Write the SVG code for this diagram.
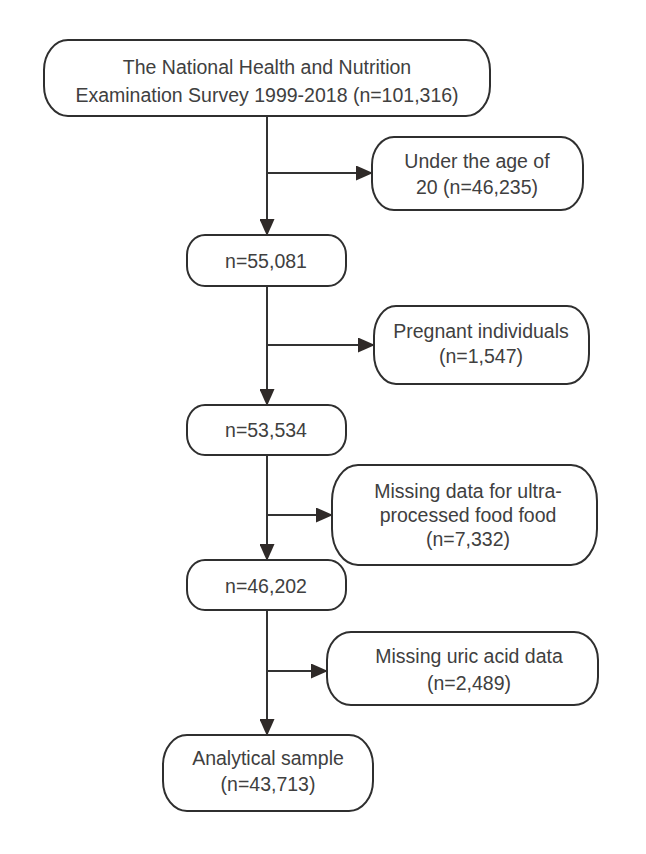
<svg xmlns="http://www.w3.org/2000/svg" width="646" height="854" viewBox="0 0 646 854">
<style>
.box{fill:#fff;stroke:#2f2f2f;stroke-width:2}
.t{font-family:"Liberation Sans",Arial,sans-serif;font-size:19.5px;fill:#404040;text-anchor:middle}
.c{stroke:#333;stroke-width:2;fill:none}
</style>
<defs>
<marker id="ah" viewBox="0 0 17 15" refX="16" refY="7.5" markerWidth="17" markerHeight="15" markerUnits="userSpaceOnUse" orient="auto">
<path d="M0,0 L17,7.5 L0,15 Z" fill="#2f2a28"/>
</marker>
</defs>
<rect width="646" height="854" fill="#fff"/>
<g id="connectors">
<line class="c" x1="267" y1="116" x2="267" y2="235" marker-end="url(#ah)"/>
<line class="c" x1="267" y1="173" x2="372" y2="173" marker-end="url(#ah)"/>
<line class="c" x1="267" y1="286" x2="267" y2="405" marker-end="url(#ah)"/>
<line class="c" x1="267" y1="345" x2="374" y2="345" marker-end="url(#ah)"/>
<line class="c" x1="267" y1="455" x2="267" y2="560" marker-end="url(#ah)"/>
<line class="c" x1="267" y1="515" x2="332" y2="515" marker-end="url(#ah)"/>
<line class="c" x1="267" y1="610" x2="267" y2="735" marker-end="url(#ah)"/>
<line class="c" x1="267" y1="671" x2="327" y2="671" marker-end="url(#ah)"/>
</g>
<g id="n1">
<rect class="box" x="44" y="40" width="446" height="76" rx="24" ry="30"/>
<text class="t" x="267" y="74">The National Health and Nutrition</text>
<text class="t" x="267" y="102">Examination Survey 1999-2018 (n=101,316)</text>
</g>
<g id="e1">
<rect class="box" x="372" y="137" width="211" height="73" rx="22" ry="28"/>
<text class="t" x="477" y="168">Under the age of</text>
<text class="t" x="477" y="194">20 (n=46,235)</text>
</g>
<g id="n2">
<rect class="box" x="187" y="235" width="159" height="51" rx="18" ry="20"/>
<text class="t" x="266" y="268">n=55,081</text>
</g>
<g id="e2">
<rect class="box" x="374" y="306" width="215" height="78" rx="22" ry="30"/>
<text class="t" x="481" y="338">Pregnant individuals</text>
<text class="t" x="481" y="363">(n=1,547)</text>
</g>
<g id="n3">
<rect class="box" x="187" y="405" width="159" height="50" rx="18" ry="20"/>
<text class="t" x="266" y="437">n=53,534</text>
</g>
<g id="e3">
<rect class="box" x="332" y="465" width="265" height="100" rx="26" ry="36"/>
<text class="t" x="468" y="498">Missing data for ultra-</text>
<text class="t" x="468" y="522">processed food food</text>
<text class="t" x="468" y="546">(n=7,332)</text>
</g>
<g id="n4">
<rect class="box" x="187" y="560" width="159" height="50" rx="18" ry="20"/>
<text class="t" x="266" y="593">n=46,202</text>
</g>
<g id="e4">
<rect class="box" x="327" y="632" width="271" height="73" rx="24" ry="28"/>
<text class="t" x="469" y="663">Missing uric acid data</text>
<text class="t" x="469" y="690">(n=2,489)</text>
</g>
<g id="n5">
<rect class="box" x="163" y="735" width="210" height="76" rx="24" ry="30"/>
<text class="t" x="268" y="765">Analytical sample</text>
<text class="t" x="268" y="791">(n=43,713)</text>
</g>
</svg>
